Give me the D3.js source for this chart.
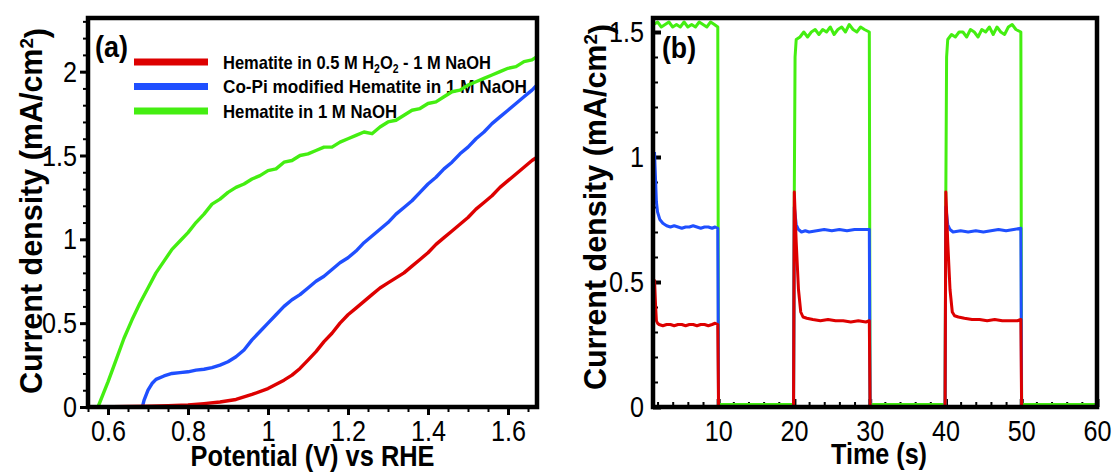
<!DOCTYPE html>
<html lang="en">
<head>
<meta charset="UTF-8">
<title>Hematite photocurrent</title>
<script src="https://d3js.org/d3.v7.min.js"></script>
<style>
  body { margin: 0; background: #fff; }
  svg text { font-family: 'Liberation Sans Narrow', 'Arial Narrow', 'Liberation Sans', sans-serif; fill: #000; }
</style>
</head>
<body>
<script>
// ---- data ----
const seriesNames = ["Hematite in 0.5 M H2O2 - 1 M NaOH", "Co-Pi modified Hematite in 1 M NaOH", "Hematite in 1 M NaOH"];
const colors = ["#dd0000", "#1f4fff", "#44ee11"];

// (a) current density vs potential
const greenV = [0.575,0.59,0.60,0.62,0.64,0.66,0.68,0.70,0.72,0.74,0.76,0.78,0.80,0.82,0.84,0.86,0.88,0.90,0.92,0.94,0.96,0.98,1.00,1.02,1.04,1.06,1.08,1.10,1.12,1.14,1.16,1.18,1.20,1.22,1.24,1.26,1.28,1.30,1.32,1.34,1.36,1.38,1.40,1.42,1.44,1.46,1.48,1.50,1.52,1.54,1.56,1.58,1.60,1.62,1.64,1.66,1.6725];
const greenJ = [0,0.09,0.15,0.28,0.41,0.52,0.62,0.71,0.80,0.87,0.94,0.99,1.04,1.10,1.15,1.21,1.24,1.28,1.31,1.33,1.36,1.38,1.41,1.42,1.46,1.47,1.50,1.51,1.53,1.55,1.55,1.58,1.60,1.62,1.64,1.63,1.67,1.70,1.71,1.74,1.77,1.78,1.81,1.82,1.85,1.88,1.89,1.92,1.94,1.96,1.98,2.00,2.02,2.03,2.06,2.07,2.09];

const blueV = [0.686,0.69,0.70,0.71,0.72,0.74,0.76,0.78,0.80,0.82,0.84,0.86,0.88,0.90,0.92,0.94,0.96,0.98,1.00,1.02,1.04,1.06,1.08,1.10,1.12,1.14,1.16,1.18,1.20,1.22,1.24,1.26,1.28,1.30,1.32,1.34,1.36,1.38,1.40,1.42,1.44,1.46,1.48,1.50,1.52,1.54,1.56,1.58,1.60,1.62,1.64,1.66,1.6725];
const blueJ = [0,0.04,0.10,0.14,0.165,0.185,0.20,0.205,0.21,0.22,0.225,0.235,0.25,0.27,0.30,0.34,0.40,0.45,0.50,0.55,0.60,0.64,0.67,0.71,0.75,0.78,0.82,0.86,0.89,0.93,0.98,1.02,1.06,1.10,1.15,1.19,1.23,1.28,1.33,1.37,1.42,1.46,1.51,1.55,1.60,1.64,1.69,1.73,1.77,1.81,1.85,1.89,1.92];

const redV = [0.575,0.65,0.70,0.75,0.80,0.84,0.88,0.92,0.96,1.00,1.04,1.06,1.08,1.10,1.12,1.14,1.16,1.18,1.20,1.22,1.24,1.26,1.28,1.30,1.32,1.34,1.36,1.38,1.40,1.42,1.44,1.46,1.48,1.50,1.52,1.54,1.56,1.58,1.60,1.62,1.64,1.66,1.6725];
const redJ = [0,0.003,0.005,0.008,0.012,0.02,0.03,0.045,0.075,0.11,0.16,0.19,0.23,0.28,0.33,0.39,0.44,0.50,0.55,0.59,0.63,0.67,0.71,0.74,0.77,0.80,0.84,0.88,0.92,0.97,1.01,1.05,1.09,1.13,1.18,1.22,1.26,1.31,1.35,1.39,1.43,1.47,1.49];

// (b) chopped-light current density vs time: [time (s), J (mA/cm2)]
const greenT = [[1.5,1.53],[2,1.54],[2.5,1.52],[3,1.53],[3.5,1.54],[4,1.52],[4.5,1.53],[5,1.52],[5.5,1.54],[6,1.52],[6.5,1.53],[7,1.52],[7.5,1.54],[8,1.53],[8.5,1.52],[9,1.54],[9.5,1.53],[9.95,1.52],[10.05,0.01],[19.95,0.01],[20.05,0.86],[20.15,1.40],[20.3,1.47],[20.8,1.48],[21.3,1.50],[21.8,1.48],[22.3,1.50],[22.8,1.51],[23.3,1.49],[23.8,1.51],[24.3,1.50],[24.8,1.52],[25.3,1.49],[25.8,1.51],[26.3,1.52],[26.8,1.50],[27.3,1.53],[27.8,1.51],[28.3,1.50],[28.8,1.52],[29.3,1.51],[29.95,1.50],[30.05,0.01],[39.95,0.01],[40.05,0.86],[40.15,1.40],[40.3,1.47],[40.8,1.49],[41.3,1.48],[41.8,1.50],[42.3,1.50],[42.8,1.48],[43.3,1.51],[43.8,1.50],[44.3,1.48],[44.8,1.51],[45.3,1.50],[45.8,1.52],[46.3,1.49],[46.8,1.52],[47.3,1.50],[47.8,1.49],[48.3,1.52],[48.8,1.53],[49.3,1.51],[49.95,1.50],[50.05,0.01],[60,0.01]];
const blueT = [[1.6,1.02],[1.75,0.90],[1.85,0.82],[2.0,0.78],[2.3,0.75],[2.7,0.735],[3.2,0.725],[3.7,0.72],[4.2,0.725],[4.7,0.72],[5.2,0.715],[5.7,0.72],[6.2,0.72],[6.7,0.725],[7.2,0.72],[7.7,0.715],[8.2,0.72],[8.7,0.72],[9.2,0.715],[9.6,0.72],[9.95,0.715],[10.05,0],[19.95,0],[20.05,0.80],[20.3,0.73],[20.6,0.71],[21,0.70],[21.5,0.705],[22,0.70],[23,0.705],[24,0.71],[25,0.705],[26,0.71],[27,0.705],[28,0.71],[29,0.71],[29.95,0.71],[30.05,0],[39.95,0],[40.05,0.80],[40.3,0.73],[40.6,0.71],[41,0.70],[42,0.705],[43,0.70],[44,0.705],[45,0.70],[46,0.705],[47,0.71],[48,0.705],[49,0.71],[49.95,0.715],[50.05,0],[60,0]];
const redT = [[1.6,0.51],[1.75,0.40],[1.85,0.345],[2.0,0.335],[2.2,0.33],[2.7,0.325],[3.2,0.33],[3.7,0.33],[4.2,0.325],[4.7,0.33],[5.2,0.33],[5.7,0.325],[6.2,0.33],[6.7,0.33],[7.2,0.325],[7.7,0.33],[8.2,0.33],[8.7,0.325],[9.2,0.33],[9.6,0.335],[9.95,0.33],[10.05,0],[19.95,0],[20.05,0.86],[20.3,0.66],[20.6,0.47],[20.9,0.38],[21.2,0.36],[21.7,0.355],[22.5,0.35],[23.5,0.345],[24.5,0.35],[25.5,0.345],[26.5,0.345],[27.5,0.34],[28.5,0.345],[29.5,0.34],[29.95,0.345],[30.05,0],[39.95,0],[40.05,0.86],[40.3,0.66],[40.6,0.47],[40.9,0.38],[41.2,0.365],[41.7,0.36],[42.5,0.355],[43.5,0.35],[44.5,0.35],[45.5,0.345],[46.5,0.35],[47.5,0.345],[48.5,0.345],[49.5,0.345],[49.95,0.35],[50.05,0],[60,0]];

const xTicksA = [0.6, 0.8, 1, 1.2, 1.4, 1.6];
const yTicksA = [0, 0.5, 1, 1.5, 2];
const xTicksB = [10, 20, 30, 40, 50, 60];
const yTicksB = [0, 0.5, 1, 1.5];

// ---- drawing ----
const svg = d3.select("body").append("svg").attr("width", 1112).attr("height", 475);

const xA = d3.scaleLinear().domain([0.55, 1.6725]).range([88, 537]);
const yA = d3.scaleLinear().domain([0, 2.32]).range([407, 18]);
const xB = d3.scaleLinear().domain([1.4, 60]).range([653, 1097]);
const yB = d3.scaleLinear().domain([0, 1.556]).range([407, 18]);

const SQUEEZE = 0.84; // no narrow face installed, so squeeze glyphs sideways

function clip(id, x, y) {
  svg.append("clipPath").attr("id", id).append("rect")
    .attr("x", x.range()[0]).attr("y", y.range()[1])
    .attr("width", x.range()[1] - x.range()[0]).attr("height", y.range()[0] - y.range()[1]);
}
clip("clipA", xA, yA);
clip("clipB", xB, yB);

function squeezeLabels(g) {
  g.selectAll("text").each(function() {
    const t = d3.select(this);
    const x = +t.attr("x") || 0;
    t.attr("x", x / SQUEEZE).attr("transform", "scale(" + SQUEEZE + ",1)").attr("font-size", 30);
  });
}

function axes(x, y, xt, yt, xMinor, yMinor, inward) {
  const s = inward ? -1 : 1;
  const bottom = y.range()[0], left = x.range()[0];
  // minor ticks
  svg.append("g").attr("transform", "translate(0," + bottom + ")")
    .call(d3.axisBottom(x).tickValues(xMinor).tickSize(5 * s).tickFormat(""))
    .call(g => g.select(".domain").remove())
    .call(g => g.selectAll("line").attr("stroke-width", 2));
  svg.append("g").attr("transform", "translate(" + left + ",0)")
    .call(d3.axisLeft(y).tickValues(yMinor).tickSize(5 * s).tickFormat(""))
    .call(g => g.select(".domain").remove())
    .call(g => g.selectAll("line").attr("stroke-width", 2));
  // major ticks + labels
  svg.append("g").attr("transform", "translate(0," + bottom + ")")
    .call(d3.axisBottom(x).tickValues(xt).tickSize(8 * s).tickPadding(inward ? 13 : 5).tickFormat(d => String(d)))
    .call(g => g.select(".domain").remove())
    .call(g => g.selectAll("line").attr("stroke-width", inward ? 4 : 3))
    .call(squeezeLabels);
  svg.append("g").attr("transform", "translate(" + left + ",0)")
    .call(d3.axisLeft(y).tickValues(yt).tickSize(8 * s).tickPadding(inward ? 9 : 3).tickFormat(d => String(d)))
    .call(g => g.select(".domain").remove())
    .call(g => g.selectAll("line").attr("stroke-width", inward ? 4 : 3))
    .call(squeezeLabels);
}

function frame(x, y) {
  svg.append("rect")
    .attr("x", x.range()[0]).attr("y", y.range()[1])
    .attr("width", x.range()[1] - x.range()[0]).attr("height", y.range()[0] - y.range()[1])
    .attr("fill", "none").attr("stroke", "#000").attr("stroke-width", 4.5);
}

function yTitle(cx, cy) {
  const t = svg.append("text")
    .attr("transform", "translate(" + cx + "," + cy + ") rotate(-90)")
    .attr("text-anchor", "middle").attr("font-size", 31).attr("font-weight", "bold")
    .attr("textLength", 366).attr("lengthAdjust", "spacingAndGlyphs");
  t.append("tspan").text("Current density (mA/cm");
  t.append("tspan").attr("dy", "-0.45em").attr("font-size", 19).text("2");
  t.append("tspan").attr("dy", "0.45em").text(")");
}

// panel (a)
const minorA = d3.range(0, 23).map(i => +(0.55 + i * 0.05).toFixed(2)).filter(v => v <= 1.6725);
const minorAy = d3.range(0, 24).map(i => +(i * 0.1).toFixed(1)).filter(v => v <= 2.32);
axes(xA, yA, xTicksA, yTicksA, minorA, minorAy, false);

// legend
const legendLen = [268, 304, 174];
seriesNames.forEach((name, i) => {
  const yy = 62 + i * 24.5;
  svg.append("line").attr("x1", 134).attr("x2", 208).attr("y1", yy).attr("y2", yy)
    .attr("stroke", colors[i]).attr("stroke-width", 7);
  const t = svg.append("text").attr("x", 223).attr("y", yy + 6.5)
    .attr("font-size", 19).attr("font-weight", "bold")
    .attr("textLength", legendLen[i]).attr("lengthAdjust", "spacingAndGlyphs");
  if (i === 0) {
    t.append("tspan").text("Hematite in 0.5 M H");
    t.append("tspan").attr("dy", 4).attr("font-size", 12).text("2");
    t.append("tspan").attr("dy", -4).text("O");
    t.append("tspan").attr("dy", 4).attr("font-size", 12).text("2");
    t.append("tspan").attr("dy", -4).text(" - 1 M NaOH");
  } else {
    t.text(name);
  }
});

const lineA = d3.line().x(d => xA(d[0])).y(d => yA(d[1]));
const gA = svg.append("g").attr("clip-path", "url(#clipA)");
[[greenV, greenJ, colors[2]], [blueV, blueJ, colors[1]], [redV, redJ, colors[0]]].forEach(([v, j, c]) => {
  gA.append("path").datum(v.map((d, i) => [d, j[i]]))
    .attr("d", lineA).attr("fill", "none").attr("stroke", c).attr("stroke-width", 3.4)
    .attr("stroke-linejoin", "round");
});
frame(xA, yA);

svg.append("text").attr("x", 95).attr("y", 57).attr("font-size", 29).attr("font-weight", "bold")
  .attr("textLength", 33).attr("lengthAdjust", "spacingAndGlyphs").text("(a)");
svg.append("text").attr("x", (xA.range()[0] + xA.range()[1]) / 2).attr("y", 466)
  .attr("text-anchor", "middle").attr("font-size", 30).attr("font-weight", "bold")
  .attr("textLength", 244).attr("lengthAdjust", "spacingAndGlyphs")
  .text("Potential (V) vs RHE");
yTitle(42, 211);

// panel (b)
const minorB = d3.range(1, 30).map(i => i * 2).filter(v => v >= 1.4 && v <= 60);
const minorBy = d3.range(0, 16).map(i => +(i * 0.1).toFixed(1)).filter(v => v <= 1.556);
axes(xB, yB, xTicksB, yTicksB, minorB, minorBy, true);

const lineB = d3.line().x(d => xB(d[0])).y(d => yB(d[1]));
const gB = svg.append("g").attr("clip-path", "url(#clipB)");
[[greenT, colors[2]], [blueT, colors[1]], [redT, colors[0]]].forEach(([d, c]) => {
  gB.append("path").datum(d)
    .attr("d", lineB).attr("fill", "none").attr("stroke", c).attr("stroke-width", 3)
    .attr("stroke-linejoin", "round");
});
frame(xB, yB);

svg.append("text").attr("x", 662).attr("y", 58).attr("font-size", 29).attr("font-weight", "bold")
  .attr("textLength", 34).attr("lengthAdjust", "spacingAndGlyphs").text("(b)");
svg.append("text").attr("x", 879).attr("y", 464)
  .attr("text-anchor", "middle").attr("font-size", 30).attr("font-weight", "bold")
  .attr("textLength", 96).attr("lengthAdjust", "spacingAndGlyphs")
  .text("Time (s)");
yTitle(606, 207);
</script>
</body>
</html>
